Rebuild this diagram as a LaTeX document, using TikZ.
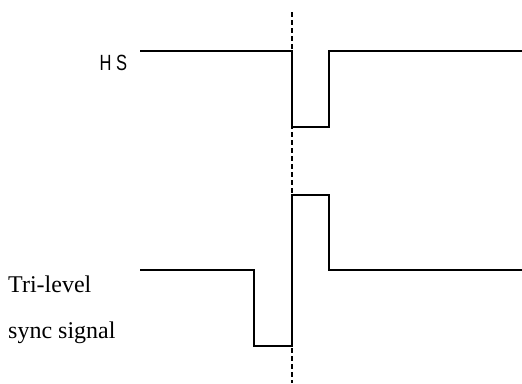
\documentclass[tikz,border=0pt]{standalone}
\usepackage{fontspec}
\setmainfont{Liberation Serif}
\newfontfamily\hsfont{Liberation Sans}
\begin{document}
\begin{tikzpicture}[x=1pt,y=-1pt,
  wave/.style={line width=1.5pt, line join=miter},
  marker/.style={line width=1.1pt, dash pattern=on 5pt off 3pt},
  serlabel/.style={anchor=base west, inner sep=0pt, font=\fontsize{24}{28}\selectfont},
  hslabel/.style={inner sep=0pt, xscale=0.75, font=\hsfont\fontsize{22}{26}\selectfont}]
\useasboundingbox (0,0) rectangle (522,383);
% labels
\node[hslabel] (hs) at (113.5,63) {H S};
\node[serlabel] (tri) at (8,292) {Tri-level};
\node[serlabel] (sync) at (8,338) {sync signal};
% HS waveform
\draw[wave] (140,51) -- (292,51) -- (292,127) -- (329,127) -- (329,51) -- (522,51);
% tri-level waveform
\draw[wave] (140,270) -- (254,270) -- (254,346) -- (292,346) -- (292,195) -- (329,195) -- (329,270) -- (522,270);
% reference line
\coordinate (top) at (292,12);
\coordinate (bot) at (292,383);
\draw[marker] (top) -- (bot);
\end{tikzpicture}
\end{document}
